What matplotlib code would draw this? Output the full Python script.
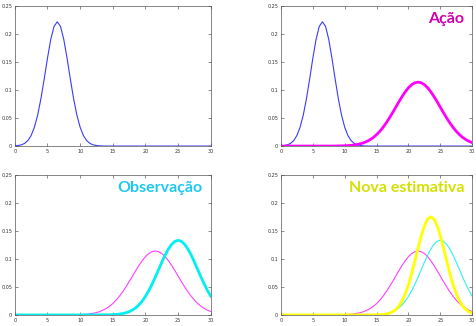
import matplotlib
matplotlib.use('Agg')
import matplotlib.pyplot as plt
import numpy as np

# x grid, step 0.5 from 0 to 30
x = np.arange(0, 30.5, 0.5)

# predicted position (blue)
blue = [0.0003, 0.0009, 0.0021, 0.0047, 0.0097, 0.0188, 0.0335, 0.0553, 0.0845, 0.1195,
        0.1566, 0.1899, 0.2132, 0.2216, 0.2132, 0.1899, 0.1566, 0.1195, 0.0845, 0.0553,
        0.0335, 0.0188, 0.0097, 0.0047, 0.0021, 0.0009, 0.0003, 0.0001] + [0.0] * 33

# after the action (magenta)
magenta = [0.0] * 17 + [0.0001, 0.0002, 0.0003, 0.0005, 0.0008, 0.0013, 0.0019, 0.0029, 0.0042,
                        0.0060, 0.0084, 0.0115, 0.0154, 0.0203, 0.0262, 0.0332, 0.0411, 0.0499,
                        0.0593, 0.0691, 0.0790, 0.0883, 0.0968, 0.1040, 0.1094, 0.1128, 0.1140,
                        0.1128, 0.1094, 0.1040, 0.0968, 0.0883, 0.0790, 0.0691, 0.0593, 0.0499,
                        0.0411, 0.0332, 0.0262, 0.0203, 0.0154, 0.0115, 0.0084, 0.0060]

# observation (cyan)
cyan = [0.0] * 27 + [0.0001, 0.0002, 0.0003, 0.0005, 0.0009, 0.0015, 0.0024, 0.0038, 0.0058,
                     0.0087, 0.0127, 0.0180, 0.0248, 0.0332, 0.0432, 0.0547, 0.0673, 0.0807,
                     0.0940, 0.1065, 0.1174, 0.1258, 0.1312, 0.1330, 0.1312, 0.1258, 0.1174,
                     0.1065, 0.0940, 0.0807, 0.0673, 0.0547, 0.0432, 0.0332]

# new estimate (yellow)
yellow = [0.0] * 29 + [0.0001, 0.0002, 0.0004, 0.0008, 0.0016, 0.0030, 0.0055, 0.0096, 0.0158,
                       0.0250, 0.0376, 0.0539, 0.0737, 0.0960, 0.1191, 0.1410, 0.1590, 0.1709,
                       0.1750, 0.1709, 0.1590, 0.1410, 0.1191, 0.0960, 0.0737, 0.0539, 0.0376,
                       0.0250, 0.0158, 0.0096, 0.0055, 0.0030]

titles = ['', 'Ação', 'Observação', 'Nova estimativa']
title_colors = ['k', '#d000b0', '#1ec8f0', '#d4e000']

xticks = [0, 5, 10, 15, 20, 25, 30]
yticks = [0, 0.05, 0.1, 0.15, 0.2, 0.25]
yticklabels = ['0', '0.05', '0.1', '0.15', '0.2', '0.25']

fig = plt.figure(figsize=(4.77, 3.26), dpi=100)

boxes = [[0.031, 0.552, 0.411, 0.430],
         [0.589, 0.552, 0.401, 0.430],
         [0.031, 0.034, 0.411, 0.430],
         [0.589, 0.034, 0.401, 0.430]]

axs = [fig.add_axes(b) for b in boxes]

# panel 1
axs[0].plot(x, blue, color='#3a3aff', lw=0.8)

# panel 2
axs[1].plot(x, blue, color='#3a3aff', lw=0.8)
axs[1].plot(x, magenta, color='#ff00ff', lw=2)

# panel 3
axs[2].plot(x, magenta, color='#ff40ff', lw=0.8)
axs[2].plot(x, cyan, color='#00f0f0', lw=2)

# panel 4
axs[3].plot(x, magenta, color='#ff40ff', lw=0.8)
axs[3].plot(x, cyan, color='#30f0f0', lw=0.8)
axs[3].plot(x, yellow, color='#ffff00', lw=2)

for ax, t, c in zip(axs, titles, title_colors):
    ax.set_xlim(0, 30)
    ax.set_ylim(0, 0.25)
    ax.set_xticks(xticks)
    ax.set_xticklabels([str(v) for v in xticks])
    ax.set_yticks(yticks)
    ax.set_yticklabels(yticklabels)
    ax.tick_params(direction='in', length=2, width=0.4, labelsize=3.5, pad=2,
                   top=True, right=True, colors='#333333')
    for s in ax.spines.values():
        s.set_linewidth(0.5)
        s.set_color('#555555')
    if t:
        ax.text(0.96, 0.905, t, transform=ax.transAxes, ha='right', va='center',
                fontsize=11.5, fontweight='bold', color=c, family=['Lato', 'DejaVu Sans'])

fig.savefig('out.png', dpi=100)
